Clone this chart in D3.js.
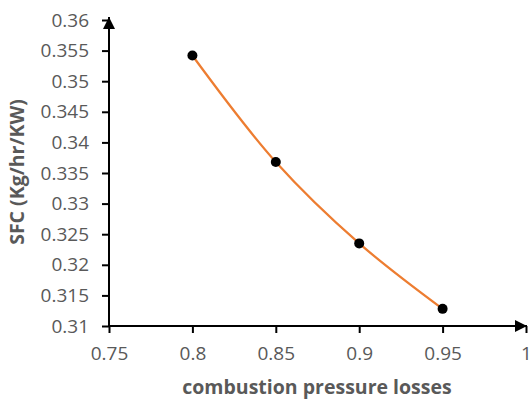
<!DOCTYPE html>
<html>
<head>
<meta charset="utf-8">
<script src="https://cdn.jsdelivr.net/npm/d3@7"></script>
<style>
  body { margin: 0; background: #fff; }
  svg { display: block; }
  .tick text { font-family: "Open Sans", sans-serif; font-size: 19px; fill: #595959; }
  .title { font-family: "Open Sans", sans-serif; font-size: 19.5px; font-weight: bold; fill: #595959; }
</style>
</head>
<body>
<svg id="chart"></svg>
<script>
// values
let pressureLoss = [0.8, 0.85, 0.9, 0.95];
let sfc = [0.3542, 0.3368, 0.3235, 0.3128];
let xTicks = [0.75, 0.8, 0.85, 0.9, 0.95, 1];
let yTicks = [0.31, 0.315, 0.32, 0.325, 0.33, 0.335, 0.34, 0.345, 0.35, 0.355, 0.36];

let width = 532, height = 399;
let svg = d3.select("#chart").attr("width", width).attr("height", height);

let x = d3.scaleLinear().domain([0.75, 1]).range([109, 526]);
let y = d3.scaleLinear().domain([0.31, 0.36]).range([326, 20]);

// x axis
let xAxis = svg.append("g")
  .attr("transform", "translate(0," + y(0.31) + ")")
  .call(d3.axisBottom(x).tickValues(xTicks).tickFormat(d3.format("")).tickSize(7).tickSizeOuter(0).tickPadding(14));
xAxis.select(".domain").remove();
xAxis.selectAll("line").attr("stroke", "#000").attr("stroke-width", 2);

// y axis
let yAxis = svg.append("g")
  .attr("transform", "translate(" + x(0.75) + ",0)")
  .call(d3.axisLeft(y).tickValues(yTicks).tickFormat(d3.format("")).tickSize(7).tickSizeOuter(0).tickPadding(13));
yAxis.select(".domain").remove();
yAxis.selectAll("line").attr("stroke", "#000").attr("stroke-width", 2);

// axis lines with arrows
svg.append("defs").append("marker")
  .attr("id", "arrow")
  .attr("viewBox", "0 0 10 10")
  .attr("refX", 10).attr("refY", 5)
  .attr("markerWidth", 6).attr("markerHeight", 6)
  .attr("markerUnits", "strokeWidth")
  .attr("orient", "auto")
  .append("path").attr("d", "M0,0 L10,5 L0,10 Z").attr("fill", "#000");

svg.append("line")
  .attr("x1", x(0.75) - 1).attr("y1", y(0.31))
  .attr("x2", x(1) + 1).attr("y2", y(0.31))
  .attr("stroke", "#000").attr("stroke-width", 2)
  .attr("marker-end", "url(#arrow)");
svg.append("line")
  .attr("x1", x(0.75)).attr("y1", y(0.31) + 1)
  .attr("x2", x(0.75)).attr("y2", y(0.36) - 3)
  .attr("stroke", "#000").attr("stroke-width", 2)
  .attr("marker-end", "url(#arrow)");

// smoothed series line
let pts = pressureLoss.map((d, i) => [d, sfc[i]]);
let line = d3.line()
  .x(d => x(d[0])).y(d => y(d[1]))
  .curve(d3.curveCatmullRom.alpha(0.5));
svg.append("path")
  .datum(pts)
  .attr("d", line)
  .attr("fill", "none")
  .attr("stroke", "#ED7D31")
  .attr("stroke-width", 2.25);

svg.selectAll("circle.pt")
  .data(pts)
  .enter().append("circle")
  .attr("class", "pt")
  .attr("cx", d => x(d[0]))
  .attr("cy", d => y(d[1]))
  .attr("r", 5)
  .attr("fill", "#000");

// titles
svg.append("text").attr("class", "title")
  .attr("x", 317).attr("y", 394)
  .attr("text-anchor", "middle")
  .text("combustion pressure losses");
svg.append("text").attr("class", "title")
  .attr("transform", "translate(24,172) rotate(-90)")
  .attr("text-anchor", "middle")
  .text("SFC (Kg/hr/KW)");
</script>
</body>
</html>
